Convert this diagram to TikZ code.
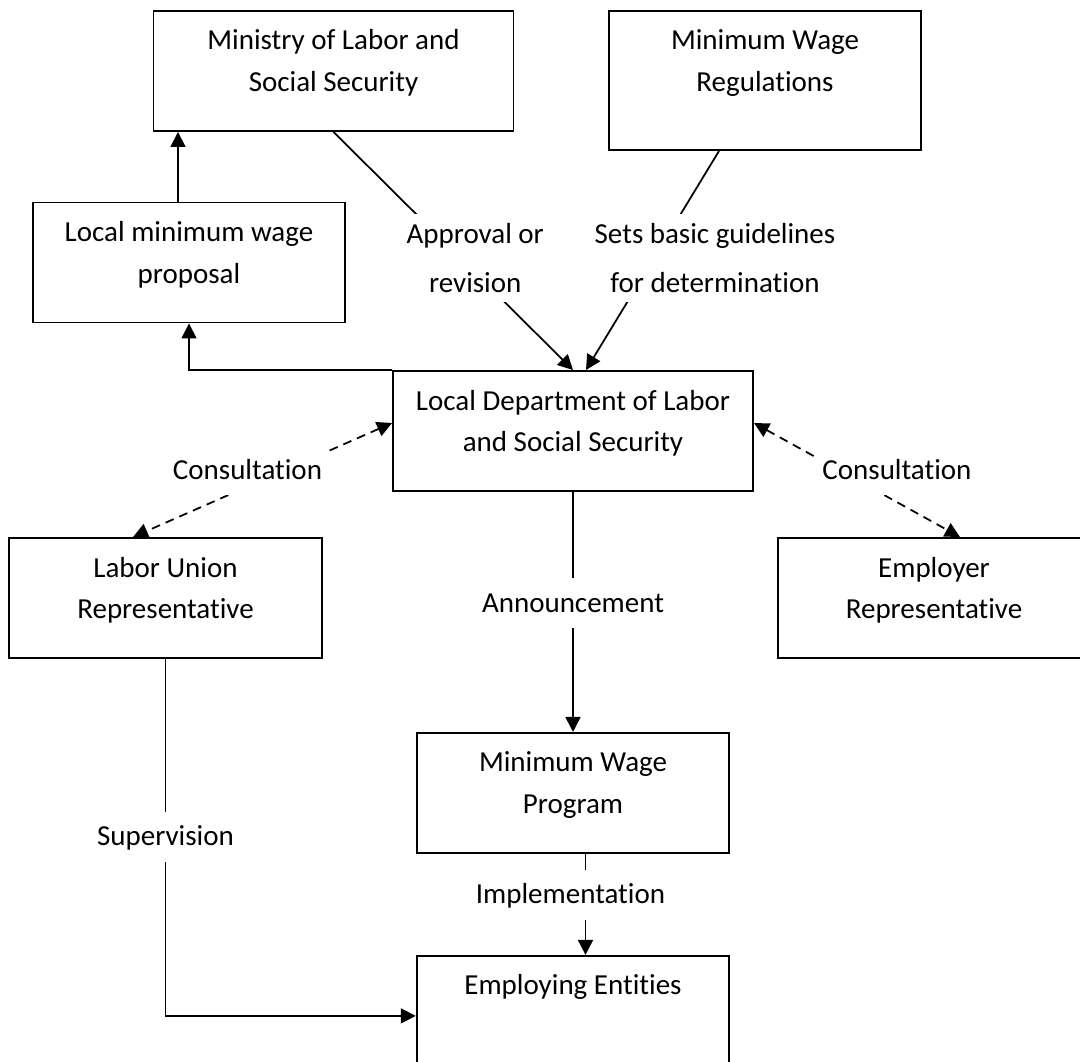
\documentclass[tikz,border=0pt]{standalone}
\usepackage{fontspec}
\setmainfont{Carlito}[Ligatures=NoCommon]
\usepackage{tikz}
\usetikzlibrary{positioning,arrows.meta,calc}

\begin{document}
\begin{tikzpicture}[
  every node/.style={font=\fontsize{16.5}{23.8}\selectfont},
  box/.style ={draw, line width=1.1pt, inner sep=0pt, align=flush center,
               text width=6.25cm, text height=0.78cm, text depth=1.62cm},
  wide/.style={box, text width=7.2cm},
  lbl/.style ={fill=white, inner xsep=3pt, inner ysep=5pt,
               minimum height=1cm, align=flush center,
               font=\fontsize{16.5}{28}\selectfont},
  arr/.style ={-{Triangle[length=0.3cm,width=0.3cm]}, line width=1pt},
  cons/.style={{Triangle[length=0.3cm,width=0.3cm]}-{Triangle[length=0.3cm,width=0.3cm]},
               line width=1pt, dash pattern=on 5pt off 3.5pt},
  node distance=2cm
]

\clip (0,0) rectangle (21.6,-21.22);

\node[wide] (ministry) at (6.67,-1.42) {Ministry of Labor and\\Social Security};

\node[box, text depth=2.0cm] (regs) at (15.30,-1.61) {Minimum Wage\\Regulations};

\node[box] (proposal) at (3.78,-5.25) {Local minimum wage\\proposal};

\node[wide] (dept) at (11.46,-8.62) {Local Department of Labor\\and Social Security};

\node[box] (union) at (3.31,-11.96) {Labor Union\\Representative};

\node[box] (employer) at (18.68,-11.96) {Employer\\Representative};

\node[box, below=4.8cm of dept] (program) {Minimum Wage\\Program};

\node[box, below=2.02cm of program] (employing) {Employing Entities};

\draw[arr] ([xshift=-0.22cm]proposal.north)
        -- ([xshift=-0.22cm]proposal.north |- ministry.south);
\draw[arr] (dept.north west) -| (proposal.south);
\draw[arr] (ministry.south)
        -- node[lbl, xshift=0.44cm, yshift=-0.14cm]{Approval or\\revision}
           (dept.north);
\draw[arr] ([xshift=-0.92cm]regs.south)
        -- node[lbl, xshift=1.25cm, yshift=0.05cm]{Sets basic guidelines\\for determination}
           ([xshift=0.26cm]dept.north);

\draw[cons] ([yshift=0.16cm]dept.west)
         -- node[lbl, xshift=-0.3cm, yshift=0.2cm]{Consultation}
            ([xshift=-0.65cm]union.north);
\draw[cons] ([yshift=0.16cm]dept.east)
         -- node[lbl, xshift=0.8cm, yshift=0.2cm]{Consultation}
            ([xshift=0.52cm]employer.north);

\draw[arr] (dept.south) -- node[lbl, yshift=0.18cm]{Announcement} (program.north);
\draw[arr] ([xshift=0.25cm]program.south)
        -- node[lbl, xshift=-0.3cm, yshift=0.18cm]{Implementation}
           ([xshift=0.25cm]employing.north);
\draw[arr] (union.south) |- node[lbl, pos=0.25]{Supervision} (employing.west);

\end{tikzpicture}
\end{document}
